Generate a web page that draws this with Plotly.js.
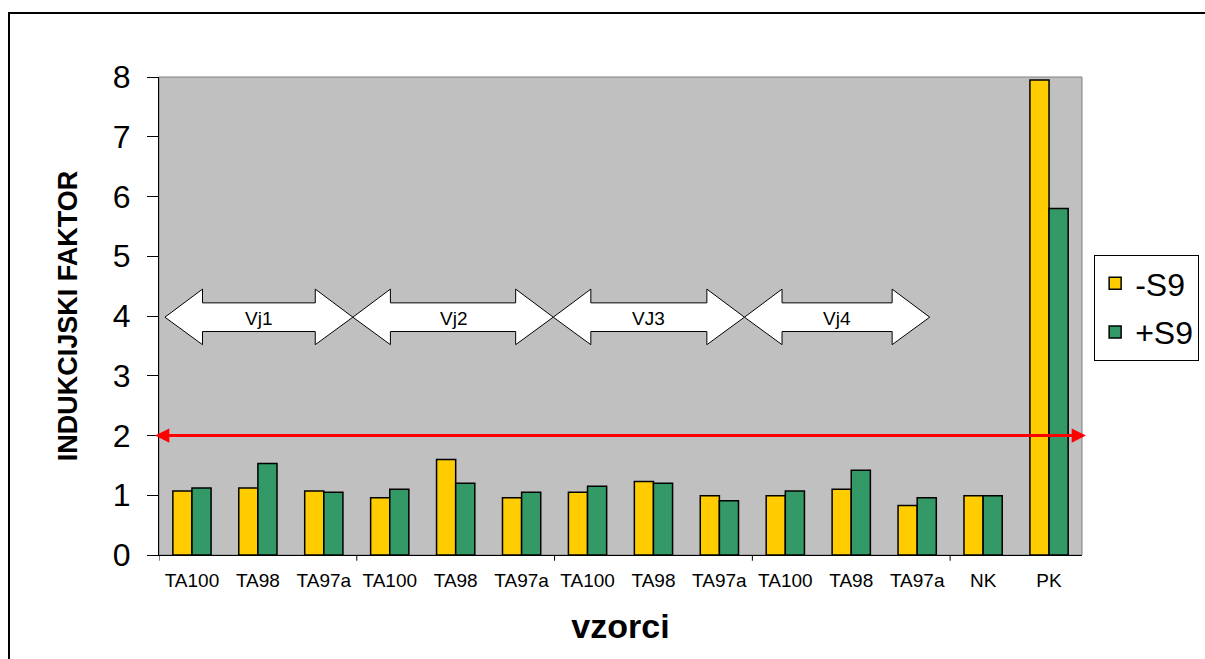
<!DOCTYPE html>
<html>
<head>
<meta charset="utf-8">
<script src="https://cdn.plot.ly/plotly-3.0.1.min.js"></script>
<style>
  html, body { margin: 0; padding: 0; background: #fff; overflow: hidden; }
  #chart { width: 1205px; height: 659px; }
  #frame { position: absolute; left: 8px; top: 12px; width: 1300px; height: 800px;
           border: 2px solid #000; pointer-events: none; box-sizing: border-box; }
</style>
</head>
<body>
<div id="chart"></div>
<div id="frame"></div>
<script>
// ---- data ----
const categories = ["TA100", "TA98", "TA97a", "TA100", "TA98", "TA97a", "TA100", "TA98", "TA97a", "TA100", "TA98", "TA97a", "NK", "PK"];
const minusS9 = [1.07, 1.12, 1.07, 0.96, 1.60, 0.96, 1.05, 1.23, 0.99, 0.99, 1.10, 0.83, 0.99, 7.95];
const plusS9  = [1.12, 1.53, 1.05, 1.10, 1.20, 1.05, 1.15, 1.20, 0.91, 1.07, 1.42, 0.96, 0.99, 5.80];
const seriesNames = ["-S9", "+S9"];
const groupLabels = ["Vj1", "Vj2", "VJ3", "Vj4"];
const thresholdValue = 2;
const yTicks = [0, 1, 2, 3, 4, 5, 6, 7, 8];

// ---- layout helpers ----
const xIdx = categories.map((_, i) => i);
const font = "Liberation Sans, Arial, sans-serif";
const traces = [
  { type: "bar", name: seriesNames[0], x: xIdx, y: minusS9, legendgroup: "a",
    marker: { color: "#FFCC00", line: { color: "#000", width: 1.5 } }, hoverinfo: "y" },
  { type: "bar", name: seriesNames[1], x: xIdx, y: plusS9, legendgroup: "b",
    marker: { color: "#339966", line: { color: "#000", width: 1.5 } }, hoverinfo: "y" }
];

const shapes = [];
const annotations = [];

// plot-area outline
shapes.push({ type: "rect", xref: "paper", yref: "paper", x0: 0, x1: 1, y0: 0, y1: 1,
  line: { color: "#808080", width: 1 }, layer: "below" });

// group boundary tick marks on the x axis (every 3 categories)
for (let b = -0.5; b <= 11.5; b += 3) {
  shapes.push({ type: "line", xref: "x", yref: "paper", x0: b, x1: b, y0: 0, y1: -0.012,
    line: { color: "#000", width: 1 } });
}

// block double-arrows over the sample groups
const arrowSpans = [[-0.41, 2.44], [2.44, 5.48], [5.48, 8.38], [8.38, 11.19]];
const yTip = 3.98, yHeadTop = 4.45, yHeadBot = 3.52, yShaftTop = 4.22, yShaftBot = 3.74, headLen = 0.57;
arrowSpans.forEach(([a, b], k) => {
  const p = `M ${a} ${yTip} L ${a + headLen} ${yHeadTop} L ${a + headLen} ${yShaftTop} ` +
            `L ${b - headLen} ${yShaftTop} L ${b - headLen} ${yHeadTop} L ${b} ${yTip} ` +
            `L ${b - headLen} ${yHeadBot} L ${b - headLen} ${yShaftBot} L ${a + headLen} ${yShaftBot} ` +
            `L ${a + headLen} ${yHeadBot} Z`;
  shapes.push({ type: "path", xref: "x", yref: "y", path: p,
    fillcolor: "#FFFFFF", line: { color: "#000", width: 1 } });
  annotations.push({ x: (a + b) / 2, y: yTip, xref: "x", yref: "y", text: groupLabels[k],
    showarrow: false, font: { family: font, size: 19, color: "#000" }, yanchor: "middle", yshift: -1 });
});

// red threshold line with arrowheads at both ends
shapes.push({ type: "line", xref: "x", yref: "y", x0: -0.45, x1: 13.45, y0: thresholdValue, y1: thresholdValue,
  line: { color: "#FF0000", width: 3 } });
annotations.push({ x: 13.56, y: thresholdValue, ax: 13.0, ay: thresholdValue,
  xref: "x", yref: "y", axref: "x", ayref: "y", text: " ", showarrow: true,
  arrowhead: 2, arrowsize: 0.95, arrowwidth: 3, arrowcolor: "#FF0000", font: { size: 1 } });
annotations.push({ x: -0.56, y: thresholdValue, ax: 0.0, ay: thresholdValue,
  xref: "x", yref: "y", axref: "x", ayref: "y", text: " ", showarrow: true,
  arrowhead: 2, arrowsize: 0.95, arrowwidth: 3, arrowcolor: "#FF0000", font: { size: 1 } });

const layout = {
  width: 1205, height: 659,
  margin: { l: 159, r: 123, t: 77, b: 104, pad: 0, autoexpand: false },
  paper_bgcolor: "#FFFFFF", plot_bgcolor: "#C0C0C0",
  font: { family: font, color: "#000" },
  barmode: "group", bargap: 0.42, bargroupgap: 0,
  showlegend: true,
  legend: { xref: "container", yref: "container", x: 0.908, y: 0.613, xanchor: "left", yanchor: "top",
    bgcolor: "#FFFFFF", bordercolor: "#000", borderwidth: 1,
    font: { family: font, size: 32, color: "#000" },
    traceorder: "grouped", tracegroupgap: 4, itemwidth: 30 },
  xaxis: {
    range: [-0.5, 13.5], tickmode: "array", tickvals: xIdx, ticktext: categories,
    ticks: "", showline: true, linecolor: "#000", linewidth: 1, showgrid: false, zeroline: false,
    tickfont: { family: font, size: 19, color: "#000" }, ticklabelstandoff: 8,
    title: { text: "<b>vzorci</b>", font: { family: font, size: 34, color: "#000" }, standoff: 24 },
    automargin: false, fixedrange: true
  },
  yaxis: {
    range: [0, 8], tickmode: "array", tickvals: yTicks, ticks: "outside", ticklen: 11,
    tickcolor: "#000", showline: true, linecolor: "#000", linewidth: 1, showgrid: false, zeroline: false,
    tickfont: { family: font, size: 32, color: "#000" }, ticklabelstandoff: 10,
    title: { text: "<b>INDUKCIJSKI FAKTOR</b>", font: { family: font, size: 27, color: "#000" }, standoff: 27 },
    automargin: false, fixedrange: true
  },
  shapes: shapes,
  annotations: annotations
};

Plotly.newPlot("chart", traces, layout, { displayModeBar: false, staticPlot: true });
</script>
</body>
</html>
